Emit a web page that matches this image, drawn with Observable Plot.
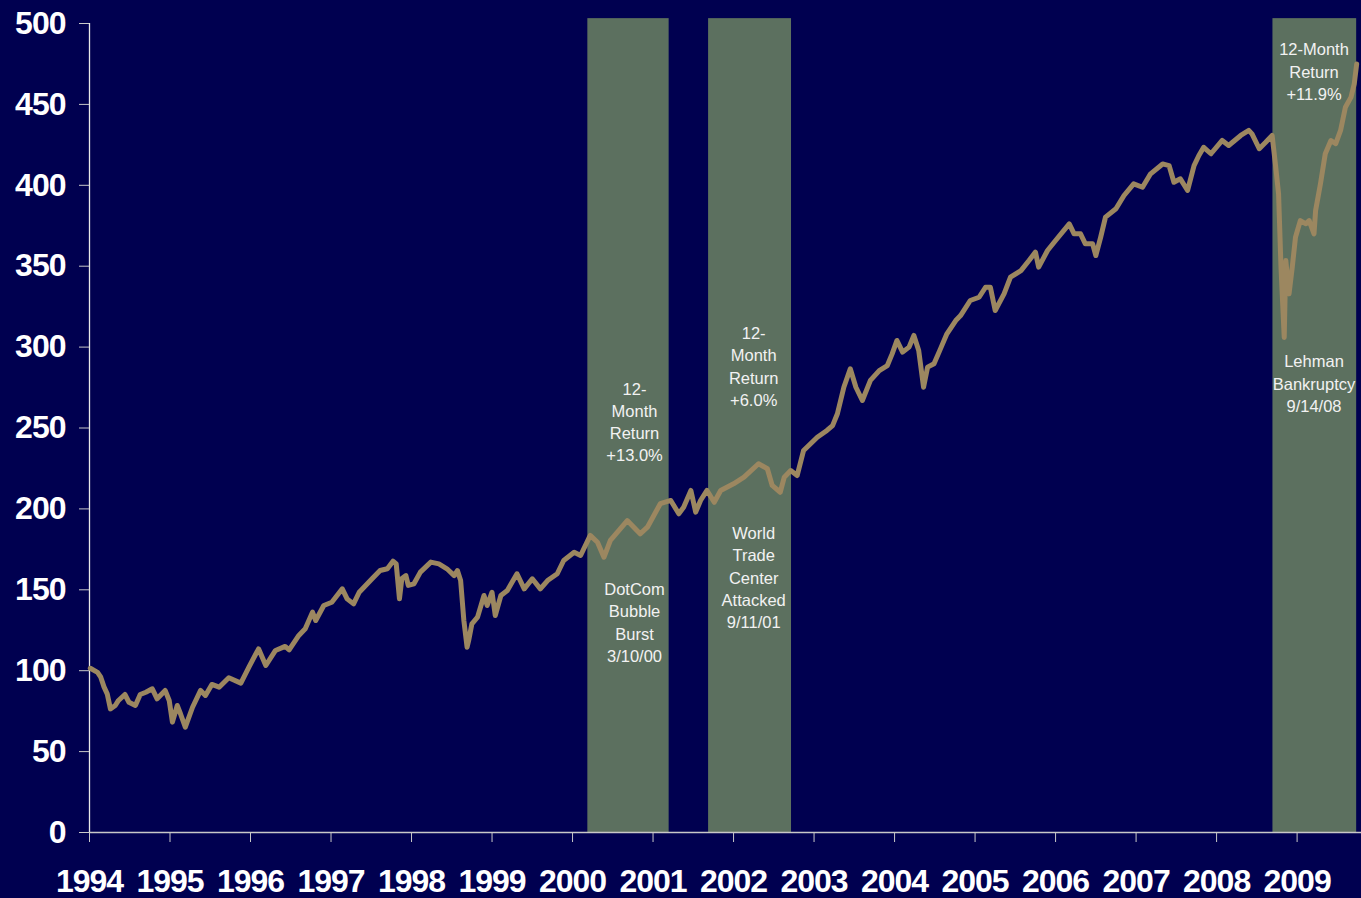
<!DOCTYPE html>
<html>
<head>
<meta charset="utf-8">
<script src="https://cdn.jsdelivr.net/npm/d3@7"></script>
<script src="https://cdn.jsdelivr.net/npm/@observablehq/plot@0.6"></script>
<style>
  html, body { margin: 0; padding: 0; background: #000050; }
  #chart svg { display: block; }
</style>
</head>
<body>
<div id="chart"></div>
<script>
// Index level (decimal year, value)
const years = [
  1994.01,1994.10,1994.14,1994.18,1994.22,1994.26,1994.32,1994.36,1994.44,1994.49,
  1994.57,1994.63,1994.70,1994.78,1994.84,1994.94,1994.99,1995.03,1995.09,1995.13,
  1995.19,1995.28,1995.38,1995.44,1995.52,1995.61,1995.73,1995.88,1995.98,1996.10,
  1996.19,1996.31,1996.43,1996.48,1996.60,1996.68,1996.77,1996.81,1996.91,1997.01,
  1997.14,1997.20,1997.28,1997.35,1997.51,1997.61,1997.70,1997.77,1997.81,1997.85,
  1997.88,1997.93,1997.96,1998.03,1998.11,1998.24,1998.34,1998.44,1998.53,1998.57,
  1998.61,1998.65,1998.69,1998.71,1998.75,1998.82,1998.90,1998.94,1999.00,1999.04,
  1999.11,1999.19,1999.31,1999.40,1999.50,1999.60,1999.69,1999.81,1999.89,2000.02,
  2000.10,2000.22,2000.31,2000.39,2000.47,2000.68,2000.80,2000.84,2000.93,2001.09,
  2001.22,2001.32,2001.38,2001.47,2001.53,2001.59,2001.67,2001.76,2001.84,2002.00,
  2002.13,2002.31,2002.42,2002.48,2002.58,2002.63,2002.71,2002.79,2002.87,2003.04,
  2003.16,2003.23,2003.29,2003.37,2003.45,2003.52,2003.60,2003.70,2003.81,2003.91,
  2003.97,2004.03,2004.10,2004.18,2004.24,2004.30,2004.36,2004.41,2004.49,2004.57,
  2004.65,2004.76,2004.82,2004.94,2005.05,2005.13,2005.19,2005.25,2005.36,2005.44,
  2005.57,2005.67,2005.75,2005.79,2005.90,2006.00,2006.17,2006.23,2006.31,2006.37,
  2006.46,2006.50,2006.56,2006.62,2006.75,2006.85,2006.97,2007.08,2007.18,2007.33,
  2007.41,2007.47,2007.55,2007.64,2007.72,2007.78,2007.84,2007.93,2008.07,2008.15,
  2008.30,2008.40,2008.44,2008.53,2008.61,2008.69,2008.73,2008.77,2008.80,2008.84,
  2008.86,2008.90,2008.94,2008.98,2009.04,2009.11,2009.15,2009.21,2009.23,2009.29,
  2009.35,2009.42,2009.48,2009.54,2009.60,2009.67,2009.71,2009.74
];
const values = [
  101.5,99,96,90,85.7,76.4,78.5,81.6,85.3,80.5,
  78.5,85.3,86.7,88.8,82.6,87.8,81.6,68.2,78.5,73.4,
  65.1,77.4,87.8,84.7,91.5,89.8,95.6,92.3,102.2,113.5,
  103.2,112.5,115,112.9,121.8,125.9,136.2,131,140.3,142.3,
  150.6,144.4,141.3,148.5,156.8,161.9,163,167.7,166,144.4,
  157,158.8,152.7,153.7,160.9,167.1,166,163,158.8,161.9,
  155.7,131,114.5,118.7,129,133.1,146.5,140.3,148.5,134.1,
  146.5,149.6,159.9,150.6,156.8,150.6,155.7,159.9,168.1,173.2,
  171.2,183.6,179.4,170.1,180.5,192.8,186.7,184.6,188.7,203.2,
  205.2,197,201,211.4,198,205.2,211.4,204.1,211.4,215.5,
  219.6,227.9,224.8,214.5,210.3,219.6,223.7,220.6,236.1,244.3,
  248.5,251.5,258.8,275.2,286.6,275.2,267,279.4,285.5,288.6,
  295.8,304.1,296.9,300,307.2,297.9,275.2,287.6,289.7,298.9,
  308.2,316.4,319.5,328.8,330.8,337,337,322.6,332.9,343.2,
  347.3,353.5,358.7,349.4,359.7,365.9,376.2,370,370,363.8,
  363.8,356.6,367.9,380.3,385.5,393.7,400.9,398.8,407.1,413.2,
  412.2,401.9,404,396.8,412.2,418.4,423.5,419.5,427.7,424.6,
  430.8,433.9,431.8,422.6,426.6,430.8,413.3,394.7,349.4,306,
  353.5,332.9,349.4,367.9,378.2,376.2,378.2,370,384.4,400.9,
  419.5,427.7,425.7,433.9,448.3,454.5,462.7,475
];

// Shaded 12-month windows after each event
const bandStart = [2000.19, 2001.69, 2008.70];
const bandEnd   = [2001.20, 2002.72, 2009.74];

// Annotation texts (x in years, y in index units)
const noteText = [
  "12-\nMonth\nReturn\n+13.0%",
  "DotCom\nBubble\nBurst\n3/10/00",
  "12-\nMonth\nReturn\n+6.0%",
  "World\nTrade\nCenter\nAttacked\n9/11/01",
  "12-Month\nReturn\n+11.9%",
  "Lehman\nBankruptcy\n9/14/08"
];
const noteYear  = [2000.77, 2000.77, 2002.25, 2002.25, 2009.21, 2009.21];
const noteValue = [254.4, 130.5, 288.7, 158.3, 471.0, 278.2];

const yTicks = [0, 50, 100, 150, 200, 250, 300, 350, 400, 450, 500];
const xTicks = [1994,1995,1996,1997,1998,1999,2000,2001,2002,2003,2004,2005,2006,2007,2008,2009];

const series = years.map((y, i) => ({year: y, value: values[i]}));
const bands = bandStart.map((s, i) => ({start: s, end: bandEnd[i]}));
const notes = noteText.map((t, i) => ({text: t, year: noteYear[i], value: noteValue[i]}));

const tickFont = {fontSize: 32, fontWeight: "bold", fill: "white"};

const chart = Plot.plot({
  width: 1361,
  height: 898,
  marginLeft: 89,
  marginRight: 0,
  marginTop: 23,
  marginBottom: 66,
  style: {background: "#000050", fontFamily: "'Liberation Sans', Arial, sans-serif", overflow: "visible"},
  x: {domain: [1994, 2009.8]},
  y: {domain: [0, 500]},
  marks: [
    Plot.rectY(bands, {x1: "start", x2: "end", y1: 0, y2: 503, fill: "#5c705f", clip: false}),
    Plot.ruleY([0], {stroke: "#c8c8c8", strokeWidth: 1.3}),
    Plot.ruleX([1994], {y1: 0, y2: 500, stroke: "#e8e8e8", strokeWidth: 1.3}),
    Plot.axisY({ticks: yTicks, tickSize: 10, tickPadding: 14, stroke: "#c8c8c8", tickFormat: d => String(d), label: null, ...tickFont}),
    Plot.axisX({ticks: xTicks, tickSize: 10, tickPadding: 27, stroke: "#c8c8c8", tickFormat: d => String(d), label: null, ...tickFont}),
    Plot.line(series, {x: "year", y: "value", stroke: "#9c8760", strokeWidth: 5, strokeLinejoin: "round", strokeLinecap: "round"}),
    Plot.text(notes, {x: "year", y: "value", text: "text", fill: "#f2f2f2", fontSize: 16.5, lineHeight: 1.35, textAnchor: "middle", lineAnchor: "middle"})
  ]
});
// tighten letter spacing of tick labels
chart.querySelectorAll('g[aria-label="y-axis tick label"] text, g[aria-label="x-axis tick label"] text')
  .forEach(t => t.setAttribute("letter-spacing", "-1"));
document.getElementById("chart").appendChild(chart);
</script>
</body>
</html>
